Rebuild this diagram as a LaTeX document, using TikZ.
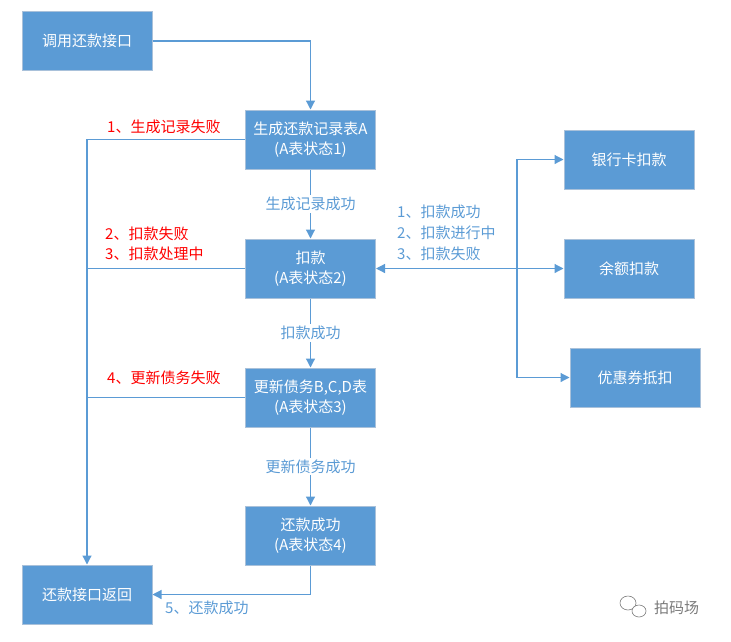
\documentclass[tikz,border=0pt]{standalone}
\usepackage{fontspec}
\setmainfont{Noto Sans CJK SC}
\usetikzlibrary{positioning, arrows.meta}
\definecolor{boxblue}{HTML}{5B9BD5}
\definecolor{boxedge}{HTML}{A9C1DA}
\definecolor{labblue}{HTML}{5B9BD5}
\definecolor{markgray}{HTML}{7A7A7A}

\begin{document}
\begin{tikzpicture}[x=1pt, y=-1pt, font=\fontsize{15}{20}\selectfont,
  box/.style={draw=boxedge, line width=1pt, fill=boxblue, text=white,
              minimum width=130pt, minimum height=59pt, align=center, inner sep=0pt},
  link/.style={draw=boxblue, line width=1.2pt},
  arr/.style={link, -{Triangle[length=9pt, width=9pt]}},
  fail/.style={text=red, align=left, anchor=west, inner sep=0pt},
  okay/.style={text=labblue, align=left, anchor=west, inner sep=0pt},
  onarr/.style={text=labblue, fill=white, inner sep=2pt}]
  \useasboundingbox (0,0) rectangle (731,641);
  % main flow
  \node[box] (call) at (87,41) {调用还款接口};
  \node[box] (gen) at (310.5,139.5) {生成还款记录表A\\(A表状态1)};
  \node[box, below=69pt of gen] (deduct) {扣款\\(A表状态2)};
  \node[box, below=69pt of deduct] (upd) {更新债务B,C,D表\\(A表状态3)};
  \node[box, below=78pt of upd] (done) {还款成功\\(A表状态4)};
  \node[box] (ret) at (87,594.5) {还款接口返回};
  % payment channels
  \node[box] (bank) at (629,159.5) {银行卡扣款};
  \node[box] (bal) at (629,268.5) {余额扣款};
  \node[box] (coupon) at (635,377.5) {优惠券抵扣};
  \coordinate (hub) at (517,268.5);

  \draw[arr] (call.east) -| (gen.north);
  \draw[arr] (gen) -- node[onarr] {生成记录成功} (deduct);
  \draw[arr] (deduct) -- node[onarr] {扣款成功} (upd);
  \draw[arr] (upd) -- node[onarr] {更新债务成功} (done);
  \draw[arr] (done.south) |- (ret.east);
  \draw[arr] (gen.west) -| (ret.north);
  \draw[link] (deduct.west) -- (deduct.west -| ret.north);
  \draw[link] (upd.west) -- (upd.west -| ret.north);

  \draw[arr] (hub) -- (deduct.east);
  \draw[arr] (hub) -- (bal.west);
  \draw[arr] (hub) |- (bank.west);
  \draw[arr] (hub) |- (coupon.west);

  % labels
  \node[fail] (f1) at (107,127) {1、生成记录失败};
  \node[fail] (f23) at (105,244) {2、扣款失败\\3、扣款处理中};
  \node[fail] (f4) at (107,378) {4、更新债务失败};
  \node[okay, font=\fontsize{15}{21}\selectfont] (res) at (397,233)
    {1、扣款成功\\2、扣款进行中\\3、扣款失败};
  \node[okay] (s5) at (165,608) {5、还款成功};

  % watermark
  \draw[markgray, line width=0.6pt] (628,603) ellipse (8pt and 7pt);
  \draw[markgray, line width=0.6pt, fill=white] (639,611) ellipse (7pt and 6pt);
  \node[anchor=west, inner sep=0pt, text=markgray] (mark) at (654,608) {拍码场};
\end{tikzpicture}
\end{document}
